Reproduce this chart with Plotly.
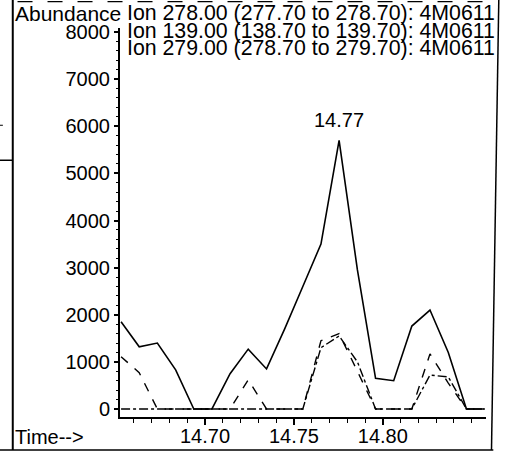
import plotly.graph_objects as go

# ---- data ----
times = [14.6528, 14.6630, 14.6732, 14.6835, 14.6937, 14.7039, 14.7141,
         14.7243, 14.7346, 14.7448, 14.7550, 14.7652, 14.7754, 14.7857,
         14.7959, 14.8061, 14.8163, 14.8265, 14.8368, 14.8470, 14.8572]
ion278 = [1850, 1320, 1400, 830, 0, 0, 750, 1270, 850, 1700, 2600,
          3500, 5700, 2950, 650, 600, 1760, 2100, 1200, 0, 0]
ion139 = [1110, 770, 0, 0, 0, 0, 0, 620, 0, 0, 0,
          1450, 1600, 800, 0, 0, 0, 1170, 550, 0, 0]
ion279 = [0, 0, 0, 0, 0, 0, 0, 0, 0, 0, 0,
          1300, 1550, 1000, 0, 0, 0, 720, 680, 0, 0]
legend_lines = ["Ion 278.00 (277.70 to 278.70): 4M0611",
                "Ion 139.00 (138.70 to 139.70): 4M0611",
                "Ion 279.00 (278.70 to 279.70): 4M0611"]
peak_label = "14.77"
y_ticks = [0, 1000, 2000, 3000, 4000, 5000, 6000, 7000, 8000]
x_ticks = [14.70, 14.75, 14.80]
x_ticklabels = ["14.70", "14.75", "14.80"]

FONT = "Liberation Sans, Arial, sans-serif"

fig = go.Figure()
fig.add_trace(go.Scatter(x=times, y=ion279, mode="lines",
                         line=dict(color="black", width=1.4, dash="dashdot")))
fig.add_trace(go.Scatter(x=times, y=ion139, mode="lines",
                         line=dict(color="black", width=1.4, dash="dash")))
fig.add_trace(go.Scatter(x=times, y=ion278, mode="lines",
                         line=dict(color="black", width=1.6)))

# peak label
ipk = ion278.index(max(ion278))
fig.add_annotation(x=times[ipk], y=ion278[ipk], text=peak_label, showarrow=False,
                   yanchor="bottom", yshift=7, font=dict(size=20, color="black", family=FONT))

# header texts
fig.add_annotation(xref="paper", yref="paper", x=-0.292, y=1.0, yshift=15,
                   xanchor="left", yanchor="middle", text="Abundance", showarrow=False,
                   font=dict(size=21, color="black", family=FONT))
for i, t in enumerate(legend_lines):
    fig.add_annotation(xref="paper", yref="paper", x=1.03, y=1.0, yshift=15 - 17.5 * i,
                       xanchor="right", yanchor="middle", text=t, showarrow=False,
                       font=dict(size=21.3, color="black", family=FONT))
fig.add_annotation(xref="paper", yref="paper", x=-0.292, y=0, yshift=-20,
                   xanchor="left", yanchor="middle", text="Time-->", showarrow=False,
                   font=dict(size=20, color="black", family=FONT))

# scanned page frame
fig.add_shape(type="line", xref="paper", yref="paper", x0=-0.293, x1=-0.293,
              y0=1.075, y1=-0.085, line=dict(color="black", width=2))
fig.add_shape(type="line", xref="paper", yref="paper", x0=-0.33, x1=1.02,
              y0=-0.085, y1=-0.085, line=dict(color="black", width=1.5))
fig.add_shape(type="line", xref="paper", yref="paper", x0=1.035, x1=1.015,
              y0=1.075, y1=-0.085, line=dict(color="black", width=1.5))
fig.add_shape(type="line", xref="paper", yref="paper", x0=-0.28, x1=1.03,
              y0=1.068, y1=1.068, line=dict(color="black", width=1.2, dash="longdash"))
fig.add_shape(type="line", xref="paper", yref="paper", x0=-0.33, x1=-0.293,
              y0=0.66, y1=0.66, line=dict(color="black", width=1.5))
fig.add_shape(type="line", xref="paper", yref="paper", x0=-0.33, x1=-0.32,
              y0=0.75, y1=0.75, line=dict(color="black", width=1))

fig.update_layout(
    width=507, height=452,
    margin=dict(l=120, r=21, t=28, b=35, autoexpand=False),
    paper_bgcolor="white", plot_bgcolor="white",
    showlegend=False,
    font=dict(family=FONT, size=20, color="black"),
)
fig.update_xaxes(range=[14.6522, 14.858], showgrid=False, zeroline=False,
                 automargin=False,
                 showline=True, linecolor="black", linewidth=2,
                 tickmode="array", tickvals=x_ticks, ticktext=x_ticklabels,
                 ticks="outside", ticklen=6, tickwidth=1.5, tickcolor="black",
                 ticklabelstandoff=-6,
                 minor=dict(dtick=0.01, tick0=14.70, ticks="outside", ticklen=4,
                            tickcolor="black", tickwidth=1),
                 tickfont=dict(size=20, family=FONT, color="black"))
fig.update_yaxes(range=[-170, 8085], showgrid=False, zeroline=False,
                 automargin=False,
                 showline=True, linecolor="black", linewidth=2,
                 tickmode="array", tickvals=y_ticks,
                 ticks="outside", ticklen=4, tickwidth=1.5, tickcolor="black",
                 minor=dict(dtick=200, tick0=0, ticks="outside", ticklen=2,
                            tickcolor="black", tickwidth=1),
                 tickfont=dict(size=20, family=FONT, color="black"))

fig.write_html("out.html", config={"displayModeBar": False},
               post_script="document.body.style.margin='0';document.body.style.overflow='hidden';")
